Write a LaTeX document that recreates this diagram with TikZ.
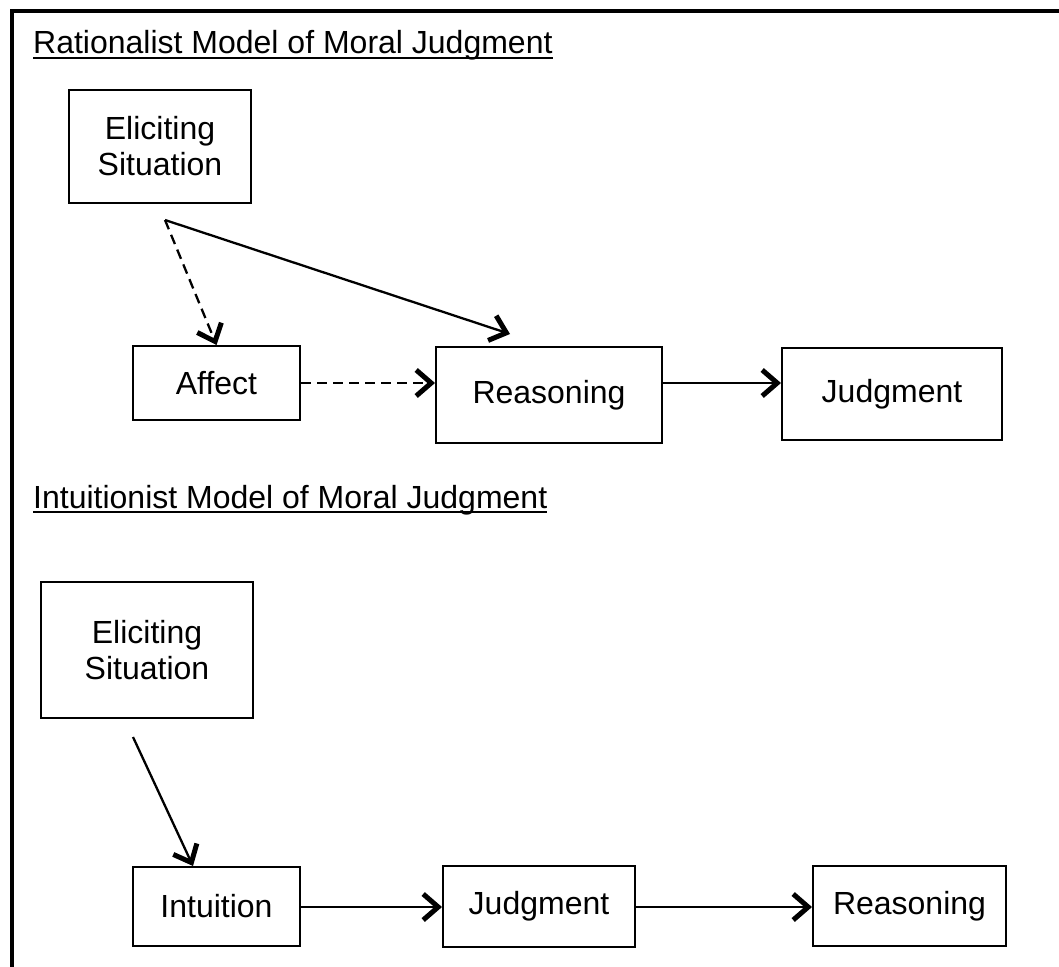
\documentclass[tikz,border=0pt]{standalone}
\usepackage{fontspec}
\setmainfont{Liberation Sans}
\usetikzlibrary{arrows.meta}
\begin{document}
\begin{tikzpicture}[x=1pt,y=-1pt,
  box/.style={draw, line width=2pt, inner sep=0pt, align=center,
    font=\fontsize{32}{36}\selectfont},
  ttl/.style={anchor=base west, inner sep=0pt, font=\fontsize{32}{36}\selectfont},
  arr/.style={line width=2.3pt, -{Straight Barb[length=15pt,width=26pt,line width'=5pt]}},
  darr/.style={arr, dash pattern=on 10pt off 6pt}]
\useasboundingbox (0,0) rectangle (1059,966);
\draw[line width=4pt] (11.5,11.5) rectangle (1080,990);

\node[ttl] (t1) at (33,54) {Rationalist Model of Moral Judgment};
\draw[line width=2pt] ([yshift=-4pt]t1.base west) -- ([yshift=-4pt]t1.base east);
\node[ttl] (t2) at (33,508) {Intuitionist Model of Moral Judgment};
\draw[line width=2pt] ([yshift=-4pt]t2.base west) -- ([yshift=-4pt]t2.base east);

% top model
\node[box, minimum width=182pt, minimum height=113pt] (es1) at (160,146.5) {Eliciting\\Situation};
\node[box, minimum width=167pt, minimum height=74pt] (aff) at (216.5,383) {Affect};
\node[box, minimum width=226pt, minimum height=96pt] (rea1) at (549,395) {Reasoning};
\node[box, minimum width=220pt, minimum height=92pt] (jud1) at (892,394) {Judgment};
\coordinate (s1) at (165,220);
\coordinate (r1top) at (510,334);
\draw[darr] (s1) -- (aff.north);
\draw[arr] (s1) -- (r1top);
\draw[darr] (aff.east |- 0,383) -- (rea1.west |- 0,383);
\draw[arr] (rea1.east |- 0,383) -- (jud1.west |- 0,383);

% bottom model
\node[box, minimum width=212pt, minimum height=136pt] (es2) at (147,650) {Eliciting\\Situation};
\node[box, minimum width=167pt, minimum height=79pt] (int) at (216.5,906) {Intuition};
\node[box, minimum width=192pt, minimum height=81pt] (jud2) at (539,906.5) {Judgment};
\node[box, minimum width=193pt, minimum height=80pt] (rea2) at (909.5,906) {Reasoning};
\coordinate (s2) at (133,737);
\draw[arr] (s2) -- (193,866);
\draw[arr] (int.east |- 0,907) -- (jud2.west |- 0,907);
\draw[arr] (jud2.east |- 0,907) -- (rea2.west |- 0,907);
\end{tikzpicture}
\end{document}
